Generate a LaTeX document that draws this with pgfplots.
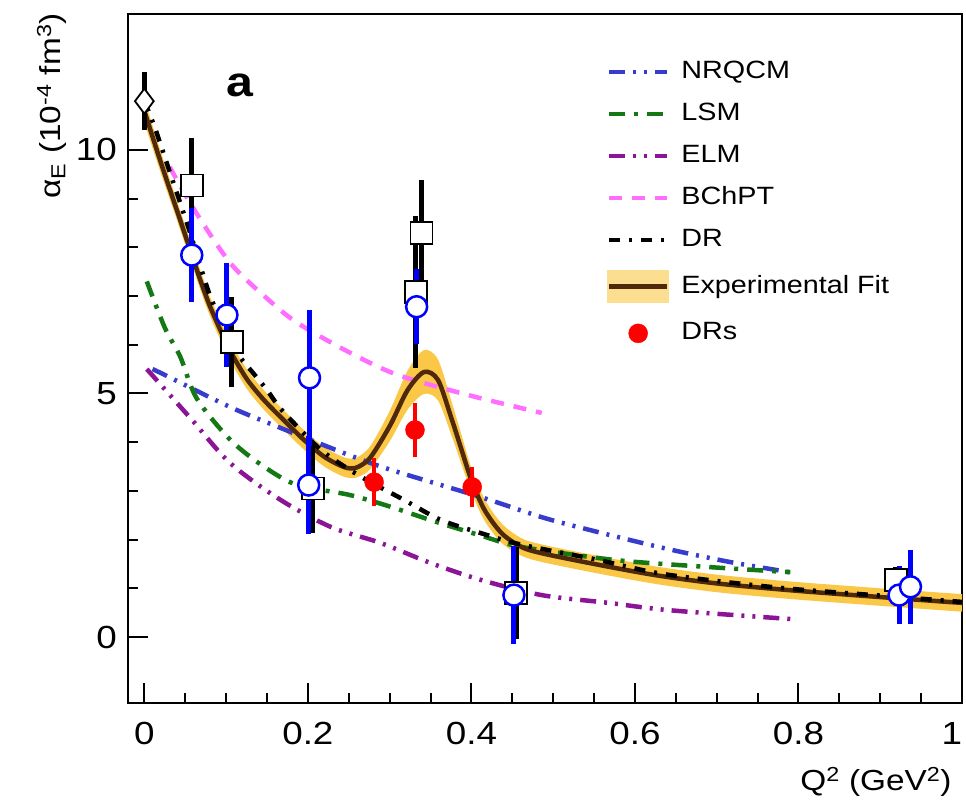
\documentclass[border=0pt]{standalone}
\usepackage{fontspec}
\setmainfont{Liberation Sans}[FakeStretch=1.15]
\usepackage{pgfplots}
\usepgfplotslibrary{fillbetween}
\usepackage{pgfplotstable}
\pgfplotsset{compat=1.18}

\definecolor{nrq}{RGB}{55,60,205}
\definecolor{lsm}{RGB}{20,120,20}
\definecolor{elm}{RGB}{140,20,150}
\definecolor{bch}{RGB}{255,110,255}
\definecolor{fitline}{RGB}{80,40,10}
\definecolor{band}{RGB}{250,200,70}

\pgfplotstableread{
x y w
0.000 10.80 0.25
0.020 9.75 0.22
0.040 8.75 0.20
0.055 8.00 0.20
0.068 7.35 0.20
0.080 6.80 0.20
0.097 6.15 0.20
0.109 5.75 0.20
0.126 5.28 0.20
0.146 4.87 0.20
0.170 4.46 0.20
0.195 4.05 0.20
0.220 3.70 0.20
0.244 3.49 0.20
0.258 3.47 0.20
0.273 3.62 0.23
0.285 3.90 0.26
0.302 4.39 0.32
0.322 5.07 0.40
0.342 5.44 0.45
0.359 5.28 0.42
0.375 4.52 0.35
0.388 3.84 0.30
0.400 3.22 0.25
0.416 2.61 0.22
0.437 2.13 0.20
0.461 1.85 0.18
0.486 1.72 0.18
0.550 1.50 0.18
0.625 1.27 0.18
0.700 1.10 0.18
0.790 0.96 0.18
0.900 0.82 0.18
1.000 0.70 0.18
}\fitdata

\pgfplotstableread{
x y
0.000 11.00
0.013 10.45
0.030 9.60
0.055 8.35
0.080 7.02
0.100 6.30
0.117 5.75
0.133 5.42
0.150 5.07
0.164 4.74
0.183 4.39
0.219 3.80
0.265 3.29
0.318 2.81
0.363 2.40
0.412 2.13
0.460 1.90
0.550 1.60
0.625 1.32
0.700 1.15
0.790 0.99
0.900 0.85
1.000 0.72
}\drdata

\pgfplotstableread{
x y
0.010 5.50
0.025 5.38
0.105 4.72
0.167 4.29
0.207 4.02
0.289 3.50
0.412 2.87
0.486 2.46
0.544 2.20
0.634 1.83
0.716 1.54
0.797 1.31
}\nrqdata

\pgfplotstableread{
x y
0.003 7.30
0.025 6.35
0.044 5.75
0.064 4.90
0.105 4.05
0.146 3.50
0.187 3.12
0.250 2.92
0.300 2.68
0.350 2.40
0.412 2.08
0.461 1.85
0.576 1.58
0.687 1.44
0.790 1.33
}\lsmdata

\pgfplotstableread{
x y
0.003 5.50
0.056 4.50
0.105 3.57
0.167 2.81
0.228 2.26
0.289 1.93
0.350 1.52
0.412 1.17
0.486 0.86
0.568 0.70
0.642 0.55
0.790 0.37
}\elmdata

\pgfplotstableread{
x y
0.031 9.65
0.060 8.80
0.105 7.68
0.150 6.95
0.187 6.45
0.250 5.85
0.310 5.38
0.400 4.95
0.486 4.60
}\bchdata

\pgfplotstableread{
x y e
0.058 9.27 0.98
0.107 6.06 0.93
0.206 3.05 0.92
0.332 7.08 1.56
0.339 8.30 1.08
0.455 0.90 0.95
0.919 1.17 0.27
}\sqdata

\pgfplotstableread{
x y e
0.058 7.84 0.96
0.101 6.61 1.07
0.202 5.32 1.40
0.201 3.12 1.00
0.333 6.78 0.77
0.452 0.86 1.00
0.923 0.86 0.60
0.937 1.03 0.76
}\circdata

\pgfplotstableread{
x y e
0.281 3.18 0.50
0.331 4.25 0.56
0.401 3.08 0.42
}\reddata

\pgfplotstableread{
x y e
0.000 11.00 0.60
}\diadata

\begin{document}
\begin{tikzpicture}
\begin{axis}[
  width=834bp, height=689bp, scale only axis,
  xmin=-0.02, xmax=1.0, ymin=-1.355, ymax=12.79,
  xtick={0,0.2,0.4,0.6,0.8,1}, ytick={0,5,10},
  xticklabels={0,0.2,0.4,0.6,0.8,\makebox[0pt][r]{1}\hspace{0bp}},
  minor x tick num=3, minor y tick num=4,
  tick align=inside, tick pos=left,
  major tick length=20bp, minor tick length=10bp,
  every tick/.style={line width=2bp, black},
  axis line style={line width=2.5bp},
  /pgf/number format/assume math mode=true,
  tick label style={font=\fontsize{32bp}{36bp}\selectfont},
  xticklabel style={inner sep=0pt, anchor=north, yshift=-19bp},
  yticklabel style={inner sep=0pt, anchor=east, xshift=-11bp},
  xlabel={Q\textsuperscript{2} (GeV\textsuperscript{2})},
  ylabel={α\textsubscript{E} (10\textsuperscript{-4} fm\textsuperscript{3})},
  label style={font=\fontsize{29bp}{33bp}\selectfont},
  xlabel style={at={(axis description cs:0.9916,-0.1263)}, anchor=base east},
  ylabel style={at={(axis description cs:-0.0815,1.006)}, anchor=base east},
  legend cell align=left,
  legend style={at={(axis description cs:0.574,0.933)}, anchor=north west,
    draw=none, fill=none, font=\fontsize{25bp}{29bp}\selectfont,
    row sep=19bp, inner sep=0pt,
    nodes={inner sep=0pt, text height=18bp, text depth=5bp},
    /tikz/every odd column/.append style={column sep=12bp}},
  legend image code/.code={\draw[mark repeat=2,mark phase=2] plot coordinates {(0bp,0bp) (29bp,0bp) (58bp,0bp)};},
]
% model curves
\addplot[nrq, line width=4.5bp, dash pattern=on 16bp off 8bp on 3bp off 8bp on 3bp off 8bp, smooth] table {\nrqdata};
\addlegendentry{NRQCM}
\addplot[lsm, line width=4.5bp, dash pattern=on 16bp off 9bp on 4bp off 9bp, smooth] table {\lsmdata};
\addlegendentry{LSM}
\addplot[elm, line width=4.5bp, dash pattern=on 16bp off 8bp on 3bp off 8bp on 3bp off 8bp, smooth] table {\elmdata};
\addlegendentry{ELM}
\addplot[bch, line width=4.5bp, dash pattern=on 13bp off 10bp, smooth] table {\bchdata};
\addlegendentry{BChPT}
\addlegendimage{black, line width=4.5bp, dash pattern=on 11bp off 9bp on 3bp off 9bp}
\addlegendentry{DR}
% fit band
\addplot[name path=fu, draw=none, forget plot, smooth] table[x=x, y expr=\thisrow{y}+\thisrow{w}] {\fitdata};
\addplot[name path=fl, draw=none, forget plot, smooth] table[x=x, y expr=\thisrow{y}-\thisrow{w}] {\fitdata};
\addplot[band, forget plot] fill between[of=fu and fl];
\addplot[fitline, line width=4.5bp, smooth,
  legend image code/.code={\fill[band!60!white] (0bp,-14bp) rectangle (58bp,14bp); \draw[line width=4.5bp, fitline] (0bp,0bp) -- (58bp,0bp);}] table[x=x, y=y] {\fitdata};
\addlegendentry{Experimental Fit}
% DR curve (on top)
\addplot[black, line width=4.5bp, dash pattern=on 11bp off 9bp on 3bp off 9bp, smooth, forget plot] table {\drdata};
% red DRs
\addplot[only marks, mark=*, mark size=9.5bp, mark options={draw=red, fill=red},
  error bars/.cd, y dir=both, y explicit, error mark=none,
  error bar style={red, line width=4bp, solid}] table[x=x, y=y, y error=e] {\reddata};
\addlegendentry{DRs}
% black squares
\addplot[only marks, mark=square*, mark size=11bp, mark options={draw=black, fill=white, line width=1.8bp},
  forget plot,
  error bars/.cd, y dir=both, y explicit, error mark=none,
  error bar style={black, line width=5bp, solid}] table[x=x, y=y, y error=e] {\sqdata};
% diamond
\addplot[only marks, mark=diamond*, mark size=12.5bp, mark options={draw=black, fill=white, line width=1.8bp},
  forget plot,
  error bars/.cd, y dir=both, y explicit, error mark=none,
  error bar style={black, line width=5bp, solid}] table[x=x, y=y, y error=e] {\diadata};
% blue circles
\addplot[only marks, mark=*, mark size=10.5bp, mark options={draw=blue, fill=white, line width=2.5bp},
  forget plot,
  error bars/.cd, y dir=both, y explicit, error mark=none,
  error bar style={blue, line width=5bp, solid}] table[x=x, y=y, y error=e] {\circdata};
\node[font=\fontsize{42bp}{46bp}\selectfont\bfseries] at (axis cs:0.117,11.33) {a};
\end{axis}
\pgfresetboundingbox
\path (current axis.south west) ++(-128bp,-98bp) rectangle ++(966bp,801bp);
\end{tikzpicture}
\end{document}
